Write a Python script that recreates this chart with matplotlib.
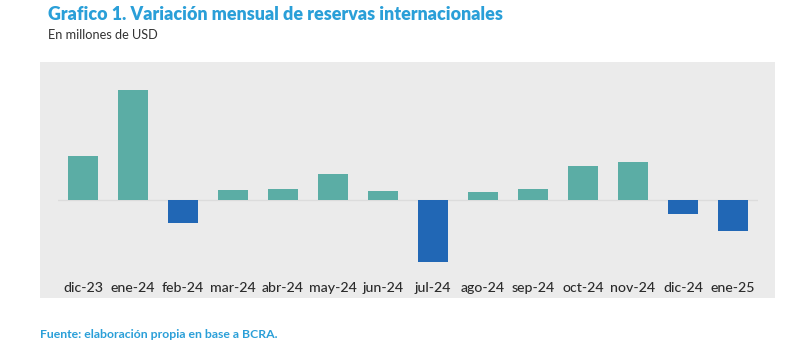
import matplotlib
matplotlib.use("Agg")
import matplotlib.pyplot as plt

categories = ["dic-23", "ene-24", "feb-24", "mar-24", "abr-24", "may-24", "jun-24",
              "jul-24", "ago-24", "sep-24", "oct-24", "nov-24", "dic-24", "ene-25"]
values = [1330, 3290, -690, 310, 330, 780, 260, -1870, 230, 330, 1030, 1150, -430, -940]

POS = "#5BADA5"
NEG = "#2167B5"
W, H = 803, 355
fig = plt.figure(figsize=(W / 100, H / 100), dpi=100)

def fx(px):
    return px / W

def fy(py):
    return 1 - py / H

# gray panel
bg = fig.add_axes([fx(40), fy(298), fx(735), 236 / H], zorder=-5)
bg.set_facecolor("#EBEBEB")
bg.set_xticks([])
bg.set_yticks([])
for s in bg.spines.values():
    s.set_visible(False)

ax = fig.add_axes([fx(58), fy(275), fx(700), 200 / H], zorder=1)
ax.patch.set_alpha(0)
x = list(range(len(categories)))
colors = [POS if v >= 0 else NEG for v in values]
ax.bar(x, values, width=0.59, color=colors, zorder=2)
ax.axhline(0, color="#DCDCDC", lw=1, zorder=1)
ax.set_xlim(-0.5, len(categories) - 0.5)
ax.set_ylim(-2250, 3750)
ax.set_xticks(x)
ax.set_xticklabels(categories, fontsize=10.2, color="#2b2b2b", family="Lato", fontweight="medium")
ax.tick_params(axis="x", length=0, pad=5)
ax.set_yticks([])
for s in ax.spines.values():
    s.set_visible(False)

fig.text(fx(48), fy(15), "Grafico 1. Variación mensual de reservas internacionales",
         fontsize=12.9, fontweight="heavy", color="#2A9FD8", family="Lato", va="center", ha="left")
fig.text(fx(48), fy(35), "En millones de USD", fontsize=9.2, color="#333333",
         family="Lato", va="center", ha="left")
fig.text(fx(40), fy(334), "Fuente: elaboración propia en base a BCRA.", fontsize=8.8,
         fontweight="bold", color="#2A9FD8", family="Lato", va="center", ha="left")

fig.savefig("out.png", dpi=100)
